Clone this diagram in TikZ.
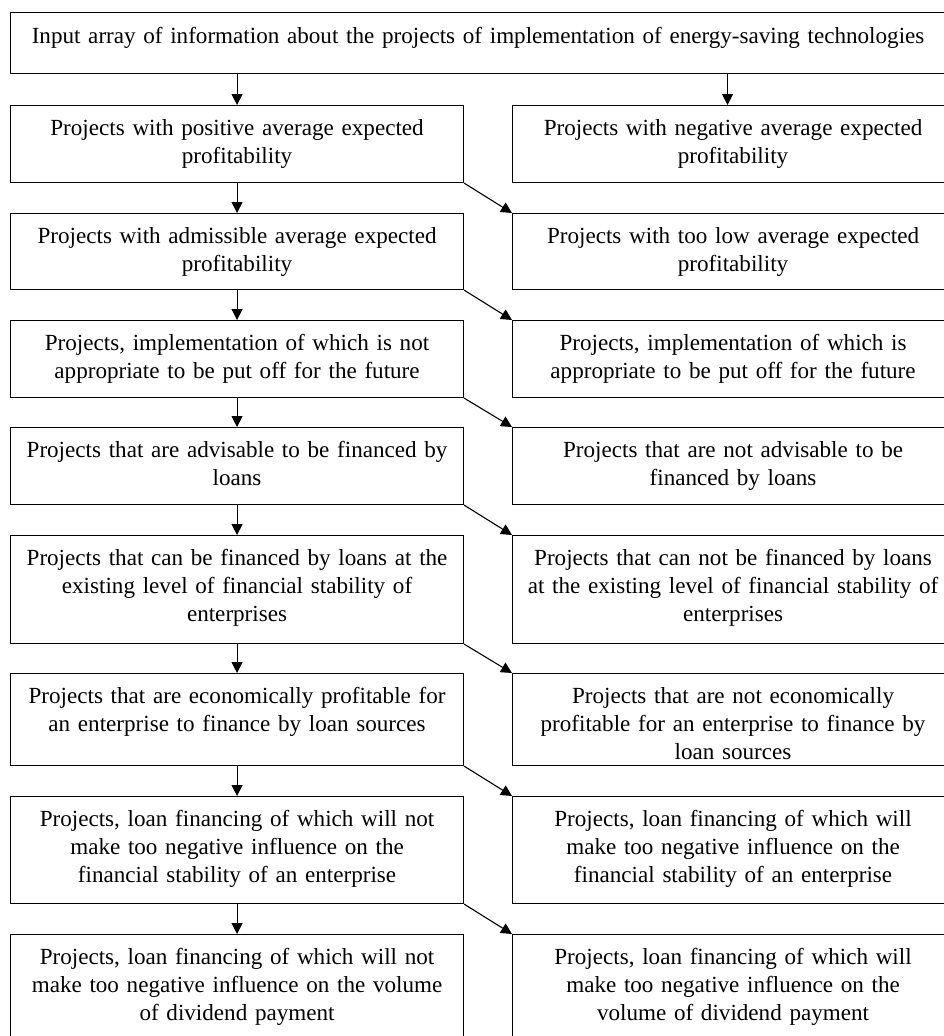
\documentclass[tikz,border=0pt]{standalone}
\usepackage{fontspec}
\setmainfont{Liberation Serif}
\usetikzlibrary{arrows.meta}
\begin{document}
\begin{tikzpicture}[x=1pt,y=-1pt,
  box/.style={draw, line width=1.1pt, inner sep=0pt, align=center, anchor=north west,
    text height=30pt, font=\fontsize{23.1}{27.8}\selectfont},
  lw/.style={text width=453pt},
  rw/.style={text width=441pt},
  arr/.style={line width=1.1pt, -{Triangle[length=11pt,width=11pt]}}]
\useasboundingbox (0,0) rectangle (944,1036);
\node[box, text width=935pt, text height=31pt, text depth=30pt] (t) at (10,12)
  {Input array of information about the projects of implementation of energy-saving technologies};
% left column
\node[box,lw,text depth=47pt] (l1) at (10,105) {Projects with positive average expected\\profitability};
\node[box,lw,text depth=46pt] (l2) at (10,213) {Projects with admissible average expected\\profitability};
\node[box,lw,text depth=47pt] (l3) at (10,320) {Projects, implementation of which is not\\appropriate to be put off for the future};
\node[box,lw,text depth=47pt] (l4) at (10,427) {Projects that are advisable to be financed by\\loans};
\node[box,lw,text depth=78pt] (l5) at (10,535) {Projects that can be financed by loans at the\\existing level of financial stability of\\enterprises};
\node[box,lw,text depth=62pt] (l6) at (10,673) {Projects that are economically profitable for\\an enterprise to finance by loan sources};
\node[box,lw,text depth=77pt] (l7) at (10,796) {Projects, loan financing of which will not\\make too negative influence on the\\financial stability of an enterprise};
\node[box,lw,text depth=80pt] (l8) at (10,934) {Projects, loan financing of which will not\\make too negative influence on the volume\\of dividend payment};
% right column
\node[box,rw,text depth=47pt] (r1) at (512,105) {Projects with negative average expected\\profitability};
\node[box,rw,text depth=46pt] (r2) at (512,213) {Projects with too low average expected\\profitability};
\node[box,rw,text depth=47pt] (r3) at (512,320) {Projects, implementation of which is\\appropriate to be put off for the future};
\node[box,rw,text depth=47pt] (r4) at (512,427) {Projects that are not advisable to be\\financed by loans};
\node[box,rw,text depth=78pt] (r5) at (512,535) {Projects that can not be financed by loans\\at the existing level of financial stability of\\enterprises};
\node[box,rw,text depth=62pt] (r6) at (512,673) {Projects that are not economically\\profitable for an enterprise to finance by\\loan sources};
\node[box,rw,text depth=77pt] (r7) at (512,796) {Projects, loan financing of which will\\make too negative influence on the\\financial stability of an enterprise};
\node[box,rw,text depth=80pt] (r8) at (512,934) {Projects, loan financing of which will\\make too negative influence on the\\volume of dividend payment};
% arrows
\draw[arr] (l1.north |- t.south) -- (l1.north);
\draw[arr] ([xshift=-5.5pt]r1.north |- t.south) -- ([xshift=-5.5pt]r1.north);
\foreach \a/\b in {1/2,2/3,3/4,4/5,5/6,6/7,7/8}{
  \draw[arr] (l\a.south) -- (l\b.north);
  \draw[arr] (l\a.south east) -- (r\b.north west);
}
\end{tikzpicture}
\end{document}
